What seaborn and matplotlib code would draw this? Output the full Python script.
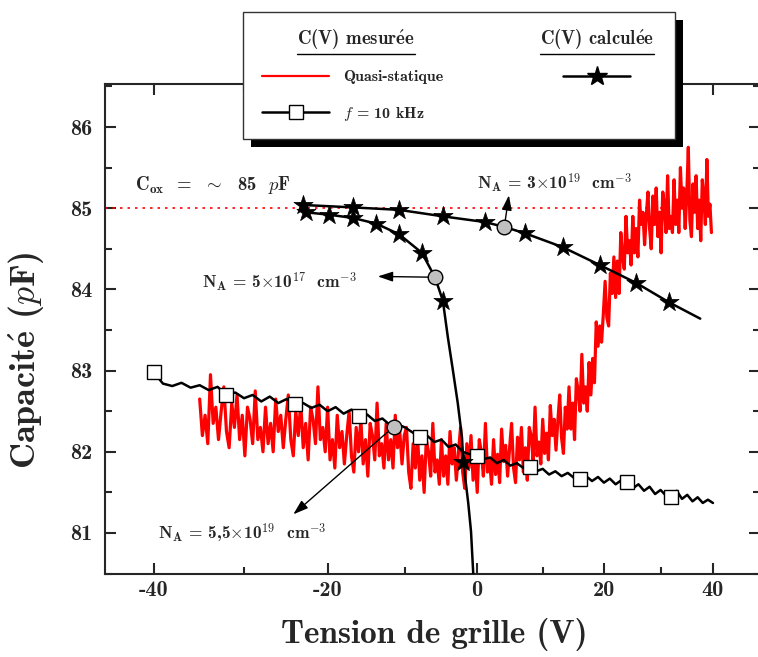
import numpy as np
import matplotlib.pyplot as plt
from matplotlib.lines import Line2D
from matplotlib.patches import Rectangle
import matplotlib.ticker as mticker
import seaborn as sns

# measured C(V), quasi-static sweep (-35 V .. 39.7 V, 0.3 V step)
v_quasi = np.linspace(-35.0, 39.7, 250)
c_quasi = [
    82.65, 82.20, 82.45, 82.10, 82.95, 82.35, 82.55, 82.15, 82.50, 82.80,
    82.25, 82.05, 82.60, 82.30, 82.70, 82.15, 82.45, 81.95, 82.55, 82.40,
    82.10, 82.75, 82.15, 82.30, 82.00, 82.55, 82.10, 82.35, 82.00, 82.65,
    82.25, 82.45, 82.05, 82.40, 82.70, 82.15, 81.95, 82.50, 82.20, 82.60,
    82.05, 82.35, 81.90, 82.55, 82.40, 82.10, 82.80, 82.15, 82.30, 82.00,
    82.55, 81.90, 82.15, 81.80, 82.45, 82.05, 82.25, 81.85, 82.20, 82.50,
    81.95, 81.75, 82.30, 82.00, 82.40, 81.85, 82.15, 81.70, 82.35, 82.20,
    81.90, 82.60, 81.95, 82.10, 81.80, 82.35, 81.90, 82.15, 81.80, 82.45,
    82.05, 82.25, 81.85, 82.20, 82.30, 81.75, 81.55, 82.10, 81.80, 82.20,
    81.65, 81.95, 81.50, 82.15, 82.00, 81.70, 82.35, 81.75, 81.90, 81.60,
    82.15, 81.70, 81.95, 81.60, 82.25, 81.85, 82.05, 81.65, 82.00, 82.30,
    81.75, 81.55, 82.10, 81.80, 82.20, 81.65, 81.95, 81.50, 82.15, 82.00,
    81.70, 82.35, 81.75, 81.90, 81.60, 82.15, 81.72, 81.97, 81.62, 82.28,
    81.88, 82.08, 81.70, 82.05, 82.35, 81.80, 81.62, 82.18, 81.90, 82.30,
    81.75, 82.05, 81.65, 82.30, 82.20, 81.90, 82.55, 81.95, 82.12, 81.85,
    82.40, 81.98, 82.23, 81.90, 82.57, 82.20, 82.40, 82.02, 82.38, 82.70,
    82.17, 81.98, 82.55, 82.28, 82.80, 82.28, 82.60, 82.15, 82.90, 82.75,
    82.50, 83.20, 82.60, 82.80, 82.50, 83.10, 82.70, 83.15, 82.85, 83.60,
    83.30, 83.55, 83.35, 83.70, 84.10, 83.65, 83.55, 84.20, 83.95, 84.40,
    83.90, 84.35, 83.95, 84.70, 84.40, 84.25, 84.90, 84.45, 84.60, 84.30,
    84.90, 84.45, 84.75, 84.40, 85.10, 84.80, 84.95, 84.55, 84.90, 85.20,
    84.75, 84.50, 85.15, 84.80, 85.25, 84.65, 84.95, 84.45, 85.20, 85.05,
    84.70, 85.40, 84.75, 84.90, 84.70, 85.35, 84.80, 85.10, 84.70, 85.50,
    85.00, 85.25, 84.75, 85.15, 85.75, 84.85, 84.65, 85.30, 84.95, 85.40,
    84.75, 85.10, 84.60, 85.35, 85.15, 84.80, 85.60, 84.90, 85.05, 84.70,
]

# measured C(V) at f = 10 kHz, 1 V step (square marker every 8 V)
v_hf = np.arange(-40, 41)
c_hf = [
    82.98, 82.84, 82.81, 82.85, 82.79, 82.82, 82.76, 82.80, 82.70, 82.73,
    82.66, 82.70, 82.62, 82.68, 82.60, 82.65, 82.59, 82.60, 82.54, 82.58,
    82.50, 82.55, 82.47, 82.52, 82.44, 82.46, 82.38, 82.41, 82.33, 82.34,
    82.30, 82.24, 82.18, 82.20, 82.12, 82.15, 82.06, 82.09, 82.00, 81.97,
    81.95, 81.91, 81.93, 81.86, 81.90, 81.83, 81.86, 81.80, 81.81, 81.76,
    81.79, 81.72, 81.76, 81.70, 81.74, 81.68, 81.67, 81.70, 81.64, 81.69,
    81.62, 81.67, 81.60, 81.65, 81.63, 81.55, 81.60, 81.52, 81.57, 81.48,
    81.53, 81.46, 81.44, 81.52, 81.42, 81.47, 81.39, 81.44, 81.37, 81.41,
    81.37,
]

# calculated C(V), N_A = 3e19 cm-3
v_calc_hi = [-23.4, -23.0, -16.8, -10.8, -4.8, 1.2, 4.1, 7.3, 13.2, 19.3, 25.6, 31.6, 37.5]
c_calc_hi = [85.06, 85.04, 85.01, 84.98, 84.90, 84.83, 84.77, 84.69, 84.52, 84.30, 84.08, 83.84, 83.64]
v_star_hi = [-23.0, -16.8, -10.8, -4.8, 1.2, 7.3, 13.2, 19.3, 25.6, 31.6]
c_star_hi = [85.04, 85.01, 84.98, 84.90, 84.83, 84.69, 84.52, 84.30, 84.08, 83.84]

# calculated C(V), N_A = 5e17 cm-3
v_calc_lo = [-23.4, -22.7, -19.8, -16.8, -13.8, -10.8, -7.7, -5.9, -4.8, -4.1,
             -3.4, -2.7, -2.1, -1.9, -1.2, -0.8, -0.5, -0.3]
c_calc_lo = [84.99, 84.95, 84.92, 84.88, 84.81, 84.68, 84.45, 84.15, 83.86, 83.41,
             83.01, 82.60, 82.18, 81.87, 81.37, 81.02, 80.54, 80.20]
v_star_lo = [-22.7, -19.8, -16.8, -13.8, -10.8, -7.7, -4.8, -1.9]
c_star_lo = [84.95, 84.92, 84.88, 84.81, 84.68, 84.45, 83.86, 81.87]

# grey points picked out by the N_A labels, and where their arrows point
v_mark = [4.1, -5.9, -11.5]
c_mark = [84.77, 84.15, 82.31]
v_tip = [4.8, -13.6, -24.2]
c_tip = [85.16, 84.16, 81.23]
na_labels = [r'N$_\mathbf{A}$ = 3$\times$10$^{\mathbf{19}}$  cm$^{\mathbf{-3}}$',
             r'N$_\mathbf{A}$ = 5$\times$10$^{\mathbf{17}}$  cm$^{\mathbf{-3}}$',
             r'N$_\mathbf{A}$ = 5,5$\times$10$^{\mathbf{19}}$  cm$^{\mathbf{-3}}$']
v_label = [0.0, -34.7, -39.5]
c_label = [85.30, 84.10, 81.00]

c_ox = 85

sns.set_style('ticks')
plt.rcParams['font.family'] = ['cmb10', 'DejaVu Serif']
plt.rcParams['mathtext.fontset'] = 'cm'
plt.rcParams['axes.unicode_minus'] = False

# the source x axis is not linear: each 10 V gap is ~7.5 % narrower than the one before
R = 0.925


def fwd(v):
    v = np.asarray(v, dtype=float)
    return (1 - R ** ((v + 40) / 10)) / (1 - R)


def inv(f):
    f = np.asarray(f, dtype=float)
    return -40 + 10 * np.log(np.clip(1 - f * (1 - R), 1e-9, None)) / np.log(R)


fig = plt.figure(figsize=(7.58, 6.57), dpi=100)
ax = fig.add_axes([105 / 758, 83 / 657, 655 / 758, 490 / 657])
ax.set_xscale('function', functions=(fwd, inv))

sns.lineplot(x=v_quasi, y=c_quasi, color='red', lw=2.3, estimator=None, sort=False, ax=ax, zorder=2)
ax.hlines(c_ox, -45.07, v_quasi[-1], colors='red', linestyles=(0, (1.5, 3)), lw=1.2, zorder=1)
sns.lineplot(x=v_hf, y=c_hf, color='k', lw=1.8, estimator=None, sort=False, marker='s',
             markevery=slice(0, 80, 8), markersize=10, markerfacecolor='white', markeredgecolor='k',
             markeredgewidth=1, ax=ax, zorder=3)
sns.lineplot(x=v_calc_hi, y=c_calc_hi, color='k', lw=1.8, estimator=None, sort=False, ax=ax, zorder=4)
sns.lineplot(x=v_calc_lo, y=c_calc_lo, color='k', lw=1.8, estimator=None, sort=False, ax=ax, zorder=4)
sns.scatterplot(x=v_star_hi + v_star_lo, y=c_star_hi + c_star_lo, marker='*', s=210, color='k',
                edgecolor='k', linewidth=0.5, ax=ax, zorder=5)
sns.scatterplot(x=v_mark, y=c_mark, s=110, color='#c0c0c0', edgecolor='k', linewidth=1, ax=ax, zorder=6)

for vm, cm, vt, ct in zip(v_mark, c_mark, v_tip, c_tip):
    ax.annotate('', xy=(vt, ct), xytext=(vm, cm), zorder=7,
                arrowprops=dict(arrowstyle='-|>,head_length=0.9,head_width=0.3', color='k', lw=1,
                                shrinkA=5, shrinkB=0))
for txt, vl, cl in zip(na_labels, v_label, c_label):
    ax.text(vl, cl, txt, fontsize=12.5, weight='bold', ha='left', va='center')
ax.text(-42.0, 85.29, r'C$_\mathbf{ox}$  =  $\sim$  85  $p$F', fontsize=13.5, weight='bold',
        ha='left', va='center')

ax.set_xlim(-45.07, 49.7)
ax.set_ylim(80.495, 86.53)
ax.xaxis.set_major_locator(mticker.MultipleLocator(20))
ax.xaxis.set_minor_locator(mticker.MultipleLocator(10))
ax.yaxis.set_major_locator(mticker.MultipleLocator(1))
ax.yaxis.set_minor_locator(mticker.MultipleLocator(0.5))
ax.xaxis.set_major_formatter(mticker.FormatStrFormatter('%d'))
ax.yaxis.set_major_formatter(mticker.FormatStrFormatter('%d'))
ax.tick_params(which='both', direction='in', top=True, right=True, width=1.5, labelsize=16)
ax.tick_params(which='major', length=8)
ax.tick_params(which='minor', length=5)
ax.tick_params(axis='y', pad=9)
ax.tick_params(axis='x', pad=5)
for sp in ax.spines.values():
    sp.set_linewidth(1.5)

ax.set_xlabel('Tension de grille (V)', fontsize=24, weight='bold')
ax.set_ylabel(r'Capacit$\mathbf{\acute{e}}$ ($p$F)', fontsize=26, weight='bold')
ax.xaxis.set_label_coords(0.502, -0.09)
ax.yaxis.set_label_coords(-0.088, 0.437)

# legend box with its drop shadow, sitting over the top spine
bx, by, bw, bh = 243 / 758, 1 - 139 / 657, 432 / 758, 127 / 657
fig.add_artist(Rectangle((bx + 8 / 758, by - 8 / 657), bw, bh, transform=fig.transFigure,
                         facecolor='k', edgecolor='none', zorder=3))
fig.add_artist(Rectangle((bx, by), bw, bh, transform=fig.transFigure,
                         facecolor='white', edgecolor='#333333', lw=1, zorder=4))

h_quasi = Line2D([], [], color='red', lw=1.6)
h_hf = Line2D([], [], color='k', lw=1.8, marker='s', ms=10, mfc='white', mec='k', mew=1)
h_calc = Line2D([], [], color='k', lw=1.8, marker='*', ms=15)
leg_kw = dict(frameon=False, fontsize=11.5, borderpad=0, borderaxespad=0, handlelength=4.2,
              handletextpad=0.9, labelspacing=1.3, loc='upper left')
fig.legend([h_quasi, h_hf], ['Quasi-statique', '$f$ = 10 kHz'],
           bbox_to_anchor=(262 / 758, 1 - 70 / 657), **leg_kw)
fig.legend([h_calc], [''], bbox_to_anchor=(563 / 758, 1 - 70 / 657), **leg_kw)

headers = [fig.text(356 / 758, 1 - 40 / 657, r'C(V) mesur$\mathbf{\acute{e}}$e', ha='center',
                    va='center', fontsize=13.5, weight='bold', zorder=6),
           fig.text(597 / 758, 1 - 40 / 657, r'C(V) calcul$\mathbf{\acute{e}}$e', ha='center',
                    va='center', fontsize=13.5, weight='bold', zorder=6)]
fig.canvas.draw()
for t in headers:
    bb = t.get_window_extent().transformed(fig.transFigure.inverted())
    fig.add_artist(Line2D([bb.x0, bb.x1], [bb.y0 - 1.5 / 657, bb.y0 - 1.5 / 657],
                          transform=fig.transFigure, color='k', lw=1, zorder=6))

fig.savefig('out.png', dpi=100)
